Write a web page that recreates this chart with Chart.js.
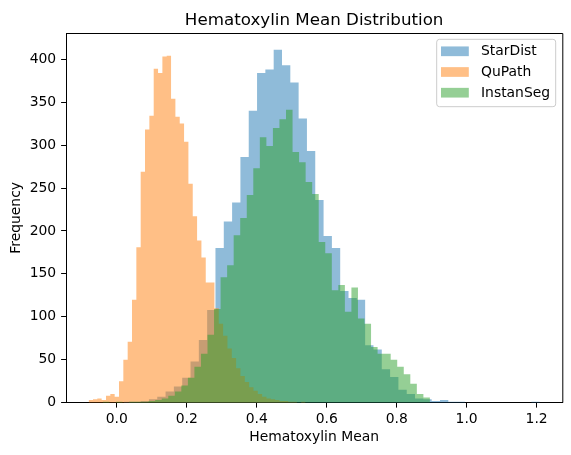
<!DOCTYPE html>
<html lang="en">
<head>
    <meta charset="UTF-8">
    <title>Hematoxylin Mean Distribution</title>
    <script src="https://cdn.jsdelivr.net/npm/chart.js@4.4.0/dist/chart.umd.min.js"></script>
    <style>
        html, body { margin: 0; padding: 0; background: #fff; }
        #wrap { width: 571px; height: 455px; position: relative; }
    </style>
</head>
<body>
<div id="wrap"><canvas id="histChart"></canvas></div>
<script>
    // Histogram bins (50 per method): first bin edge, bin width, counts per bin
    const starDistStart = 0.0205;
    const starDistWidth = 0.02377;
    const starDistCounts = [1, 1, 2, 4, 7, 13, 19, 29, 48, 73,
        108, 180, 211, 233, 286, 340, 384, 388, 411, 393,
        373, 331, 293, 236, 194, 180, 130, 122, 120, 67,
        62, 39, 30, 15, 10, 5, 4, 2, 3, 1,
        1, 0, 0, 0, 0, 0, 0, 0, 0, 1];

    const quPathStart = -0.0806;
    const quPathWidth = 0.0124;
    const quPathCounts = [3, 4, 5, 3, 8, 10, 7, 25, 50, 71,
        120, 181, 269, 318, 334, 389, 384, 403, 404, 354,
        333, 325, 304, 255, 217, 189, 169, 140, 140, 110,
        92, 78, 63, 52, 40, 31, 24, 18, 14, 10,
        7, 5, 4, 3, 2, 2, 1, 1, 0, 1];

    const instanSegStart = -0.04;
    const instanSegWidth = 0.0187;
    const instanSegCounts = [1, 0, 1, 0, 1, 1, 1, 2, 3, 5,
        8, 13, 20, 29, 42, 57, 79, 109, 146, 160,
        195, 215, 242, 273, 309, 299, 320, 330, 341, 292,
        280, 257, 243, 187, 174, 131, 137, 106, 134, 98,
        92, 65, 57, 57, 50, 42, 33, 22, 10, 6];

    const seriesNames = ['StarDist', 'QuPath', 'InstanSeg'];
    const xTickValues = [0, 0.2, 0.4, 0.6, 0.8, 1.0, 1.2];
    const yTickValues = [0, 50, 100, 150, 200, 250, 300, 350, 400];

    const colors = ['rgba(31,119,180,0.5)', 'rgba(255,127,14,0.5)', 'rgba(44,160,44,0.5)'];
    const FONT = 'DejaVu Sans';

    // left edge of each bin with its count, plus the closing right edge
    function binSteps(start, width, counts) {
        const pts = counts.map((c, i) => ({ x: start + i * width, y: c }));
        pts.push({ x: start + counts.length * width, y: counts[counts.length - 1] });
        return pts;
    }

    // title, top/right spines and matplotlib style legend
    const decorations = {
        id: 'decorations',
        afterDraw(chart) {
            const { ctx, chartArea: a } = chart;
            ctx.save();
            ctx.strokeStyle = '#000';
            ctx.lineWidth = 1;
            ctx.beginPath();
            ctx.moveTo(a.left, a.top + 0.5);
            ctx.lineTo(a.right + 0.5, a.top + 0.5);
            ctx.lineTo(a.right + 0.5, a.bottom);
            ctx.stroke();

            ctx.fillStyle = '#000';
            ctx.font = '16.7px "' + FONT + '"';
            ctx.textAlign = 'center';
            ctx.textBaseline = 'alphabetic';
            ctx.fillText('Hematoxylin Mean Distribution', (a.left + a.right) / 2, a.top - 8.3);

            // legend box
            const bx = a.right - 125.6, by = a.top + 6.3, bw = 119, bh = 67.4, r = 2.8;
            ctx.beginPath();
            ctx.moveTo(bx + r, by);
            ctx.arcTo(bx + bw, by, bx + bw, by + bh, r);
            ctx.arcTo(bx + bw, by + bh, bx, by + bh, r);
            ctx.arcTo(bx, by + bh, bx, by, r);
            ctx.arcTo(bx, by, bx + bw, by, r);
            ctx.closePath();
            ctx.fillStyle = 'rgba(255,255,255,0.8)';
            ctx.fill();
            ctx.strokeStyle = '#cccccc';
            ctx.stroke();

            ctx.font = '13.9px "' + FONT + '"';
            ctx.textAlign = 'left';
            ctx.textBaseline = 'middle';
            seriesNames.forEach((name, i) => {
                const cy = by + 12 + i * 20.7;
                ctx.fillStyle = colors[i];
                ctx.fillRect(bx + 4.3, cy - 4.85, 27.8, 9.7);
                ctx.fillStyle = '#000';
                ctx.fillText(name, bx + 44.3, cy + 0.5);
            });
            ctx.restore();
        }
    };

    const counts = [starDistCounts, quPathCounts, instanSegCounts];
    const starts = [starDistStart, quPathStart, instanSegStart];
    const widths = [starDistWidth, quPathWidth, instanSegWidth];

    const datasets = seriesNames.map((name, i) => ({
        label: name,
        data: binSteps(starts[i], widths[i], counts[i]),
        stepped: true,
        fill: 'origin',
        backgroundColor: colors[i],
        borderWidth: 0,
        pointRadius: 0,
        order: 3 - i
    }));

    const tickFont = { family: FONT, size: 13.9 };

    new Chart(document.getElementById('histChart'), {
        type: 'line',
        data: { datasets: datasets },
        options: {
            responsive: true,
            maintainAspectRatio: false,
            animation: false,
            layout: { padding: { left: 0, right: 8.7, top: 33, bottom: 0 } },
            plugins: {
                legend: { display: false },
                tooltip: { enabled: false }
            },
            scales: {
                x: {
                    type: 'linear',
                    min: -0.1453,
                    max: 1.2734,
                    grid: { display: true, drawOnChartArea: false, drawTicks: true, tickLength: 4.9, color: '#000', lineWidth: 1 },
                    border: { display: true, color: '#000', width: 1 },
                    ticks: { font: tickFont, color: '#000', padding: 3.5, maxRotation: 0, callback: v => v.toFixed(1) },
                    afterBuildTicks: s => { s.ticks = xTickValues.map(v => ({ value: v })); },
                    afterFit: s => { s.height = 52.3; },
                    title: { display: true, text: 'Hematoxylin Mean', font: tickFont, color: '#000', padding: { top: 0, bottom: 9.5 } }
                },
                y: {
                    min: 0,
                    max: 430.5,
                    grid: { display: true, drawOnChartArea: false, drawTicks: true, tickLength: 4.9, color: '#000', lineWidth: 1 },
                    border: { display: true, color: '#000', width: 1 },
                    ticks: { font: tickFont, color: '#000', padding: 4.9, callback: v => String(v) },
                    afterBuildTicks: s => { s.ticks = yTickValues.map(v => ({ value: v })); },
                    afterFit: s => { s.width = 66; },
                    title: { display: true, text: 'Frequency', font: tickFont, color: '#000', padding: { top: 8.5, bottom: 0 } }
                }
            }
        },
        plugins: [decorations]
    });
</script>
</body>
</html>
